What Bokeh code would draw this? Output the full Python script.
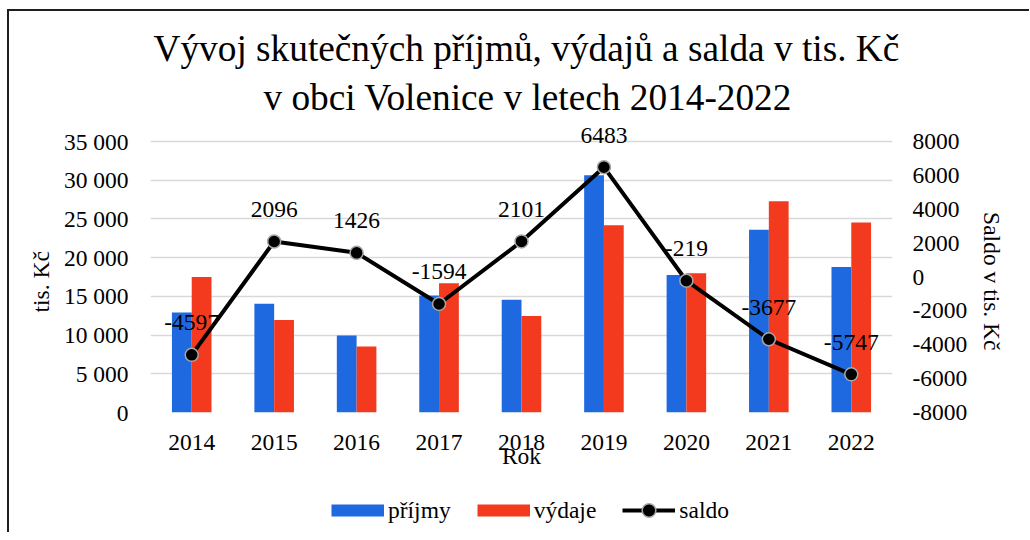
import math
from bokeh.plotting import figure
from bokeh.layouts import column
from bokeh.models import (FactorRange, Range1d, LinearAxis, FixedTicker, ColumnDataSource,
                          LabelSet, Legend, LegendItem, Title)
from bokeh.core.properties import value
from bokeh.transform import dodge
from bokeh.embed import file_html
from bokeh.resources import INLINE

# ---------------- data ----------------
years = ["2014", "2015", "2016", "2017", "2018", "2019", "2020", "2021", "2022"]
prijmy = [12900, 14050, 9950, 15100, 14550, 30650, 17750, 23600, 18800]
vydaje = [17500, 11950, 8520, 16700, 12450, 24170, 17970, 27280, 24550]
saldo = [-4597, 2096, 1426, -1594, 2101, 6483, -219, -3677, -5747]

left_ticks = [0, 5000, 10000, 15000, 20000, 25000, 30000, 35000]
left_tick_labels = ["0", "5 000", "10 000", "15 000", "20 000", "25 000", "30 000", "35 000"]
right_ticks = [-8000, -6000, -4000, -2000, 0, 2000, 4000, 6000, 8000]
right_tick_labels = ["-8000", "-6000", "-4000", "-2000", "0", "2000", "4000", "6000", "8000"]

title_lines = ["Vývoj skutečných příjmů, výdajů a salda v tis. Kč",
               "v obci Volenice v letech 2014-2022"]
x_label = "Rok"
y_label = "tis. Kč"
y2_label = "Saldo v tis. Kč"
series_names = ["příjmy", "výdaje", "saldo"]

# ---------------- style / layout ----------------
FONT = "Liberation Serif"
FS = "23.5px"
BLUE = "#1f69e0"
RED = "#f33a1f"
GRID = "#d9d9d9"
W, H1, H2 = 1020, 476, 45
GRID_PX = 271          # pixel span of the 0..35000 gridlines
EXTRA_PX = 16          # empty room above the top gridline (for the top value label)
y_end = left_ticks[-1] * (GRID_PX + EXTRA_PX) / GRID_PX
s_end = right_ticks[0] + (right_ticks[-1] - right_ticks[0]) * (GRID_PX + EXTRA_PX) / GRID_PX

src = ColumnDataSource(dict(year=years, prijmy=prijmy, vydaje=vydaje, saldo=saldo,
                            saldo_txt=[str(v) for v in saldo]))

p = figure(width=W, height=H1, x_range=FactorRange(factors=years),
           y_range=Range1d(0, y_end), output_backend="svg", toolbar_location=None,
           title=None, min_border_left=141, min_border_right=137, min_border_top=114,
           min_border_bottom=75)
p.extra_y_ranges = {"saldo": Range1d(right_ticks[0], s_end)}
p.outline_line_color = None
p.background_fill_color = "white"
p.border_fill_color = "white"


def mk_title(text, size, align, offset, standoff):
    return Title(text=text, align=align, offset=offset, standoff=standoff,
                 text_font=FONT, text_font_size=size, text_font_style="normal",
                 text_color="black")


# first added = closest to the frame
p.add_layout(mk_title(title_lines[1], "37.3px", "left", 113, 15), "above")
p.add_layout(mk_title(title_lines[0], "37.3px", "left", 3, -2), "above")

p.xgrid.visible = False
p.ygrid.ticker = FixedTicker(ticks=left_ticks)
p.ygrid.grid_line_color = GRID
p.ygrid.grid_line_width = 1.5


def style_axis(ax):
    ax.axis_line_color = None
    ax.major_tick_line_color = None
    ax.minor_tick_line_color = None
    ax.major_tick_out = 0
    ax.major_tick_in = 0
    ax.minor_tick_out = 0
    ax.minor_tick_in = 0
    ax.major_label_text_font = FONT
    ax.major_label_text_font_size = FS
    ax.major_label_text_color = "black"
    ax.axis_label_text_font = FONT
    ax.axis_label_text_font_size = FS
    ax.axis_label_text_font_style = "normal"
    ax.axis_label_text_color = "black"


yax = p.yaxis[0]
yax.ticker = FixedTicker(ticks=left_ticks)
yax.major_label_overrides = dict(zip(left_ticks, left_tick_labels))
style_axis(yax)
yax.major_label_standoff = 22
p.add_layout(mk_title(y_label, FS, "left", 100, 14), "left")

xax = p.xaxis[0]
xax.axis_label = x_label
style_axis(xax)
xax.major_label_standoff = 22
xax.axis_label_standoff = -10

rax = LinearAxis(y_range_name="saldo", ticker=FixedTicker(ticks=right_ticks),
                 major_label_overrides=dict(zip(right_ticks, right_tick_labels)))
style_axis(rax)
rax.major_label_standoff = 20
p.add_layout(rax, "right")
p.add_layout(mk_title(y2_label, FS, "right", 62, 16), "right")

# ---------------- glyphs ----------------
bp = p.vbar(x=dodge("year", -0.12, range=p.x_range), top="prijmy", width=0.24,
            source=src, fill_color=BLUE, line_color=None)
br = p.vbar(x=dodge("year", 0.12, range=p.x_range), top="vydaje", width=0.24,
            source=src, fill_color=RED, line_color=None)
ln = p.line(x="year", y="saldo", y_range_name="saldo", source=src,
            line_color="black", line_width=4, line_join="round")
sc = p.scatter(x="year", y="saldo", y_range_name="saldo", source=src, size=13,
               fill_color="black", line_color="#a6a6a6", line_width=1.5)

labels = LabelSet(x="year", y="saldo", text="saldo_txt", y_range_name="saldo",
                  source=src, text_align="center", text_baseline="middle",
                  y_offset=32, text_font=value(FONT), text_font_size=FS,
                  text_color="black")
p.add_layout(labels)

# ---------------- legend strip (separate canvas below the chart) ----------------
p2 = figure(width=W, height=H2, x_range=Range1d(0, 1), y_range=Range1d(0, 1),
            output_backend="svg", toolbar_location=None, x_axis_type=None,
            y_axis_type=None, min_border=0, title=None)
p2.grid.visible = False
p2.outline_line_color = None
p2.background_fill_color = "white"
p2.border_fill_color = "white"

proxy = ColumnDataSource(dict(x=[float("nan")], y=[float("nan")]))
sw_b = p2.line(x="x", y="y", source=proxy, line_color=BLUE, line_width=12, line_cap="butt")
sw_r = p2.line(x="x", y="y", source=proxy, line_color=RED, line_width=12, line_cap="butt")
sw_l = p2.line(x="x", y="y", source=proxy, line_color="black", line_width=4)
sw_m = p2.scatter(x="x", y="y", source=proxy, size=13, fill_color="black",
                  line_color="#a6a6a6", line_width=1.5)

leg = Legend(items=[LegendItem(label=series_names[0], renderers=[sw_b]),
                    LegendItem(label=series_names[1], renderers=[sw_r]),
                    LegendItem(label=series_names[2], renderers=[sw_l, sw_m])],
             orientation="horizontal", location=(181, 5), glyph_width=53,
             glyph_height=34, label_standoff=4, spacing=26, padding=0, margin=0,
             border_line_color=None, background_fill_alpha=0,
             label_text_font=FONT, label_text_font_size=FS, label_text_color="black")
p2.add_layout(leg)

layout = column(p, p2, spacing=0)
layout.styles = {"margin-left": "7px", "margin-top": "9px",
                 "border-left": "2px solid #1e1e1e", "border-top": "2px solid #1e1e1e"}

open("out.html", "w").write(file_html(layout, INLINE))
